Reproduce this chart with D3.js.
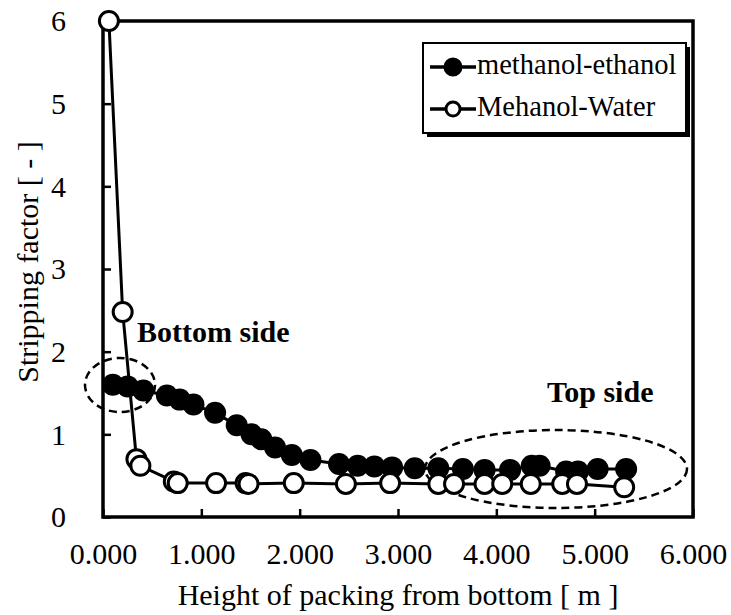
<!DOCTYPE html>
<html>
<head>
<meta charset="utf-8">
<script src="https://cdn.jsdelivr.net/npm/d3@7"></script>
<style>
  html, body { margin: 0; padding: 0; background: #fff; }
  svg { display: block; }
  text { font-family: "Liberation Serif", "Times New Roman", serif; fill: #000; }
</style>
</head>
<body>
<svg id="chart" width="731" height="615"></svg>
<script>
// ---- data ----
const xTicks = [0, 1, 2, 3, 4, 5, 6];
const yTicks = [0, 1, 2, 3, 4, 5, 6];

const meEthX = [0.10,0.25,0.41,0.65,0.78,0.92,1.14,1.36,1.51,1.61,1.75,1.92,2.11,2.40,2.59,2.76,2.94,3.17,3.41,3.66,3.88,4.14,4.36,4.44,4.71,4.83,5.03,5.32];
const meEthY = [1.60,1.58,1.53,1.47,1.42,1.36,1.26,1.11,1.00,0.94,0.84,0.75,0.69,0.64,0.62,0.61,0.60,0.59,0.59,0.58,0.57,0.57,0.62,0.62,0.55,0.55,0.58,0.58];

const meWatX = [0.06,0.20,0.34,0.38,0.72,0.76,1.15,1.45,1.48,1.94,2.47,2.92,3.41,3.57,3.88,4.06,4.35,4.67,4.82,5.30];
const meWatY = [6.00,2.48,0.70,0.62,0.43,0.41,0.41,0.41,0.40,0.41,0.40,0.41,0.40,0.40,0.40,0.40,0.40,0.40,0.40,0.36];

const seriesNames = ["methanol-ethanol", "Mehanol-Water"];
const xTitle = "Height of packing from bottom [ m ]";
const yTitle = "Stripping factor [ - ]";
const annotations = ["Bottom side", "Top side"];

// ---- layout ----
const mLeft = 103, mRight = 693, mTop = 21, mBottom = 517;
const svg = d3.select("#chart");

const x = d3.scaleLinear().domain([0, 6]).range([mLeft, mRight]);
const y = d3.scaleLinear().domain([0, 6]).range([mBottom, mTop]);

// axes (inward ticks)
const xAxis = d3.axisBottom(x).tickValues(xTicks).tickSize(-8).tickPadding(18).tickFormat(d3.format(".3f"));
const yAxis = d3.axisLeft(y).tickValues(yTicks).tickSize(-8).tickPadding(36).tickFormat(d3.format("d"));

const gx = svg.append("g").attr("transform", `translate(0,${mBottom})`).call(xAxis);
const gy = svg.append("g").attr("transform", `translate(${mLeft},0)`).call(yAxis);
[gx, gy].forEach(g => {
  g.attr("font-family", null);
  g.select(".domain").remove();
  g.selectAll(".tick line").attr("stroke", "#000").attr("stroke-width", 2.5);
  g.selectAll(".tick text").style("font-size", "30px").attr("fill", "#000")
    .style("font-family", "'Liberation Serif', 'Times New Roman', serif");
});
gx.selectAll(".tick text").attr("dy", 0).attr("y", 47);
gy.selectAll(".tick text").attr("dy", "0.33em").attr("x", -37);

// frame
svg.append("rect")
  .attr("x", mLeft).attr("y", mTop)
  .attr("width", mRight - mLeft).attr("height", mBottom - mTop)
  .attr("fill", "none").attr("stroke", "#000").attr("stroke-width", 3.5);

// titles
svg.append("text").attr("x", (mLeft + mRight) / 2).attr("y", 605)
  .attr("text-anchor", "middle").style("font-size", "30px").text(xTitle);
svg.append("text").attr("transform", "translate(38,262) rotate(-90)")
  .attr("text-anchor", "middle").style("font-size", "30px").text(yTitle);

// dashed ellipses
svg.append("ellipse").attr("cx", 120).attr("cy", 385).attr("rx", 35).attr("ry", 27)
  .attr("fill", "none").attr("stroke", "#000").attr("stroke-width", 2.5).attr("stroke-dasharray", "8,5");
svg.append("ellipse").attr("cx", 556).attr("cy", 469).attr("rx", 131).attr("ry", 39)
  .attr("fill", "none").attr("stroke", "#000").attr("stroke-width", 2.5).attr("stroke-dasharray", "8,5");

// annotations
svg.append("text").attr("x", 137).attr("y", 342).style("font-size", "30px").style("font-weight", "bold").text(annotations[0]);
svg.append("text").attr("x", 547).attr("y", 402).style("font-size", "30px").style("font-weight", "bold").text(annotations[1]);

// series
const line = d3.line().x(d => x(d[0])).y(d => y(d[1]));
const ethData = meEthX.map((v, i) => [v, meEthY[i]]);
const watData = meWatX.map((v, i) => [v, meWatY[i]]);

svg.append("path").datum(ethData).attr("d", line)
  .attr("fill", "none").attr("stroke", "#000").attr("stroke-width", 3);
svg.selectAll("circle.eth").data(ethData).enter().append("circle")
  .attr("class", "eth").attr("cx", d => x(d[0])).attr("cy", d => y(d[1])).attr("r", 11)
  .attr("fill", "#000");

svg.append("path").datum(watData).attr("d", line)
  .attr("fill", "none").attr("stroke", "#000").attr("stroke-width", 3);
svg.selectAll("circle.wat").data(watData).enter().append("circle")
  .attr("class", "wat").attr("cx", d => x(d[0])).attr("cy", d => y(d[1])).attr("r", 9.5)
  .attr("fill", "#fff").attr("stroke", "#000").attr("stroke-width", 3);

// legend
const lg = svg.append("g");
lg.append("rect").attr("x", 427).attr("y", 47).attr("width", 263).attr("height", 90).attr("fill", "#000");
lg.append("rect").attr("x", 423).attr("y", 43).attr("width", 263).attr("height", 90)
  .attr("fill", "#fff").attr("stroke", "#000").attr("stroke-width", 2);
const rows = [67, 109];
seriesNames.forEach((name, i) => {
  lg.append("line").attr("x1", 430).attr("x2", 476).attr("y1", rows[i]).attr("y2", rows[i])
    .attr("stroke", "#000").attr("stroke-width", 3.5);
  lg.append("circle").attr("cx", 453).attr("cy", rows[i]).attr("r", i === 0 ? 8 : 7)
    .attr("fill", i === 0 ? "#000" : "#fff").attr("stroke", "#000").attr("stroke-width", 3);
  lg.append("text").attr("x", 477).attr("y", rows[i] + 7).style("font-size", "28.5px").text(name);
});
</script>
</body>
</html>
